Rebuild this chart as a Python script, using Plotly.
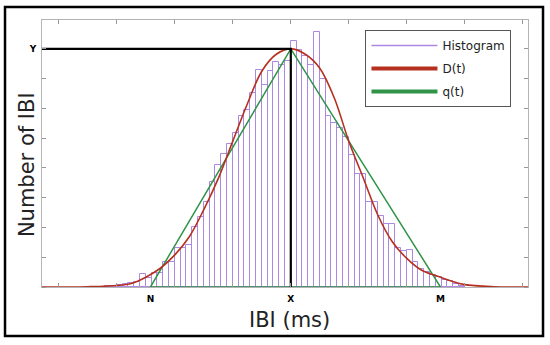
import numpy as np
import plotly.graph_objects as go

# ---- data (in "IBI units": 1 unit = one tick spacing) ----
X_VAL = 4.0      # mode of IBI ("X")
Y_VAL = 8.0      # peak count ("Y")
N_VAL = 1.58     # left foot of triangle ("N")
M_VAL = 6.58     # right foot of triangle ("M")

BIN_WIDTH = 0.1
FIRST_BIN_LEFT = 0.8
hist_counts = [0.03, 0.05, 0.07, 0.10, 0.12, 0.18, 0.45, 0.30, 0.47, 0.47,
               0.85, 0.85, 1.32, 1.32, 1.41, 2.03, 2.36, 2.85, 3.54, 4.10,
               4.47, 4.80, 5.17, 5.75, 5.95, 6.51, 7.29, 6.79, 7.24, 7.55,
               7.45, 7.60, 8.28, 7.95, 7.75, 7.45, 8.56, 7.00, 5.75, 5.50,
               5.33, 5.05, 4.44, 3.80, 3.80, 2.87, 2.87, 2.40, 2.10, 2.10,
               1.31, 1.20, 1.24, 0.85, 0.60, 0.50, 0.40, 0.35, 0.25, 0.20,
               0.10, 0.05]

d_t_x = [-0.29, 0.5, 1.0, 1.25, 1.5, 1.75, 2.0, 2.25, 2.5, 2.75, 3.0, 3.25,
         3.5, 3.75, 4.0, 4.25, 4.5, 4.75, 5.0, 5.25, 5.5, 5.75, 6.0, 6.25,
         6.5, 6.75, 7.0, 7.5, 8.09]
d_t_y = [0.0, 0.01, 0.05, 0.12, 0.33, 0.63, 1.08, 1.69, 2.6, 3.65, 4.9, 6.15,
         7.25, 7.82, 8.0, 7.82, 7.35, 6.35, 4.9, 3.66, 2.42, 1.52, 0.96, 0.57,
         0.38, 0.21, 0.08, 0.01, 0.0]

q_t_x = [N_VAL, X_VAL, M_VAL, N_VAL]
q_t_y = [0.0, Y_VAL, 0.0, 0.0]

X_RANGE = [-0.29, 8.09]
Y_RANGE = [0, 8.97]

x_tick_labels = ["N", "X", "M"]
y_tick_labels = ["Y"]

PURPLE = "#ad88e2"
RED = "#b5301f"
GREEN = "#2f9448"
FONT = "DejaVu Sans"

bin_centers = FIRST_BIN_LEFT + BIN_WIDTH * (np.arange(len(hist_counts)) + 0.5)

fig = go.Figure()

fig.add_trace(go.Bar(
    x=bin_centers, y=hist_counts, width=BIN_WIDTH,
    marker=dict(color="rgba(255,255,255,0)", line=dict(color=PURPLE, width=1)),
    showlegend=False, hoverinfo="skip"))

fig.add_trace(go.Scatter(x=q_t_x, y=q_t_y, mode="lines",
                         line=dict(color=GREEN, width=1.5), showlegend=False))
fig.add_trace(go.Scatter(x=d_t_x, y=d_t_y, mode="lines", line_shape="spline",
                         line=dict(color=RED, width=1.6), showlegend=False))

# black guide lines to the peak
fig.add_trace(go.Scatter(x=[X_RANGE[0], X_VAL, X_VAL], y=[Y_VAL, Y_VAL, 0],
                         mode="lines", line=dict(color="black", width=2.2),
                         showlegend=False))

# legend entries
fig.add_trace(go.Scatter(x=[None], y=[None], mode="lines", name="Histogram",
                         line=dict(color=PURPLE, width=1.5), legendgroup="a"))
fig.add_trace(go.Scatter(x=[None], y=[None], mode="lines", name="D(t)",
                         line=dict(color=RED, width=4), legendgroup="b"))
fig.add_trace(go.Scatter(x=[None], y=[None], mode="lines", name="q(t)",
                         line=dict(color=GREEN, width=4), legendgroup="c"))

axis_common = dict(showgrid=False, zeroline=False, showline=True,
                   linecolor="#b4b4b4", linewidth=1, mirror="ticks",
                   ticks="", fixedrange=True)

fig.update_xaxes(range=X_RANGE, tickvals=[N_VAL, X_VAL, M_VAL],
                 ticktext=["<b>%s</b>" % t for t in x_tick_labels],
                 tickfont=dict(family=FONT, size=9, color="black"),
                 ticklabelstandoff=3,
                 minor=dict(tick0=0, dtick=1, ticks="inside", ticklen=4,
                            tickcolor="#999999"),
                 **axis_common)
fig.update_yaxes(range=Y_RANGE, tickvals=[Y_VAL],
                 ticktext=["<b>%s</b>" % t for t in y_tick_labels],
                 tickfont=dict(family=FONT, size=9, color="black"),
                 ticklabelstandoff=3,
                 minor=dict(tick0=0, dtick=1, ticks="inside", ticklen=4,
                            tickcolor="#999999"),
                 **axis_common)

fig.update_layout(
    width=550, height=345,
    margin=dict(l=42, r=22, t=20, b=58),
    plot_bgcolor="white", paper_bgcolor="white",
    bargap=0, barmode="overlay",
    font=dict(family=FONT, color="#222222"),
    legend=dict(x=0.966, y=0.9625, xanchor="right", yanchor="top",
                bgcolor="white", bordercolor="#555555", borderwidth=1,
                font=dict(family=FONT, size=12, color="#222222"),
                traceorder="grouped", tracegroupgap=4, itemwidth=66),
    shapes=[dict(type="rect", xref="paper", yref="paper",
                 x0=-0.0761, x1=1.0309, y0=-0.1835, y1=1.0487,
                 line=dict(color="black", width=2.5), layer="below")],
    annotations=[
        dict(text="Number of IBI", xref="paper", yref="paper",
             x=-0.031, y=0.46, xanchor="center", yanchor="middle",
             textangle=-90, showarrow=False,
             font=dict(family=FONT, size=21, color="#222222")),
        dict(text="IBI (ms)", xref="paper", yref="paper",
             x=0.51, y=-0.124, xanchor="center", yanchor="middle",
             showarrow=False,
             font=dict(family=FONT, size=21, color="#222222")),
    ],
)

fig.write_html("out.html", config={"displayModeBar": False},
               post_script="document.body.style.margin='0';"
                           "document.body.style.overflow='hidden';")
